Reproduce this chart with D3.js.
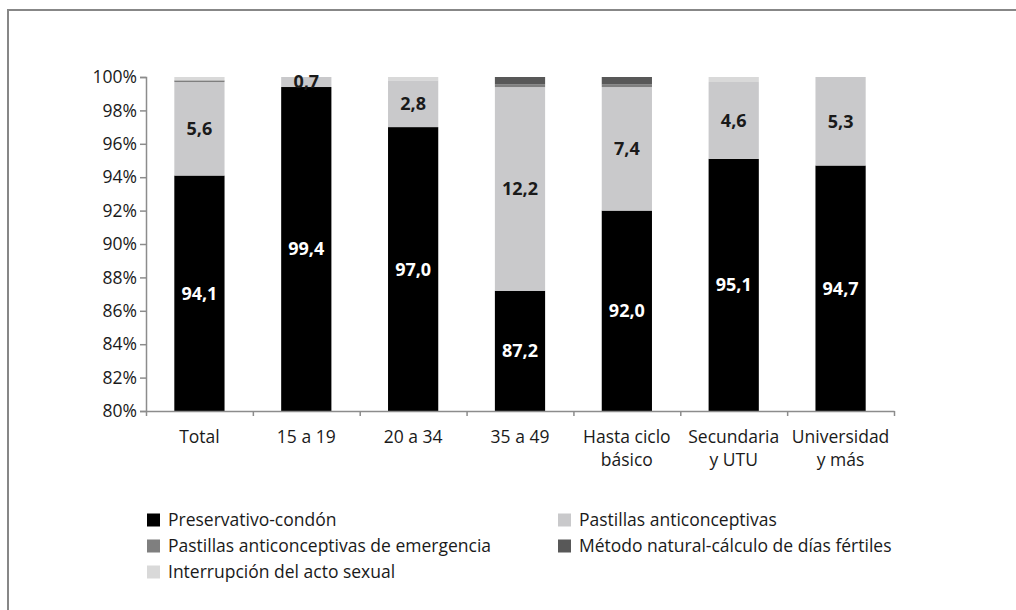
<!DOCTYPE html>
<html>
<head>
<meta charset="utf-8">
<script src="https://cdn.jsdelivr.net/npm/d3@7"></script>
<style>
  body { margin: 0; background: #fff; }
  svg text { font-family: "Open Sans", "Noto Sans", sans-serif; }
</style>
</head>
<body>
<svg id="canvas"></svg>
<script>
let categories = [['Total'], ['15 a 19'], ['20 a 34'], ['35 a 49'], ['Hasta ciclo', 'básico'], ['Secundaria', 'y UTU'], ['Universidad', 'y más']]
let seriesNames = ['Preservativo-condón', 'Pastillas anticonceptivas', 'Pastillas anticonceptivas de emergencia', 'Método natural-cálculo de días fértiles', 'Interrupción del acto sexual']
let seriesColors = ['#000000', '#c9c9cb', '#7f7f7f', '#585858', '#d9d9d9']

let condon       = [94.1, 99.4, 97.0, 87.2, 92.0, 95.1, 94.7]
let pastillas    = [5.6, 0.7, 2.8, 12.2, 7.4, 4.6, 5.3]
let emergencia   = [0.1, 0, 0, 0.15, 0.15, 0, 0]
let natural      = [0, 0, 0, 0.45, 0.45, 0, 0]
let interrupcion = [0.2, 0, 0.2, 0, 0, 0.3, 0]

let yTicks = [80, 82, 84, 86, 88, 90, 92, 94, 96, 98, 100]

let width = 1016
let height = 610
let fontSize = 17.5

let canvas = d3.select('#canvas')
canvas.attr('width', width)
      .attr('height', height)

// outer frame
canvas.append('rect')
      .attr('x', 8).attr('y', 10)
      .attr('width', width).attr('height', height)
      .attr('fill', 'none')
      .attr('stroke', '#878787')
      .attr('stroke-width', 2)

let series = [condon, pastillas, emergencia, natural, interrupcion]
let rows = categories.map((c, i) => {
    let row = { key: i }
    series.forEach((s, j) => { row['s' + j] = s[i] })
    return row
})
let stacked = d3.stack().keys(series.map((s, j) => 's' + j))(rows)

let xScale = d3.scaleBand()
               .domain(d3.range(categories.length))
               .range([146, 894])
               .paddingInner(0.53)
               .paddingOuter(0.265)

let yScale = d3.scaleLinear()
               .domain([80, 100])
               .range([411, 77])

canvas.append('clipPath').attr('id', 'plot')
      .append('rect').attr('x', 146).attr('y', 77).attr('width', 748).attr('height', 334)

let layers = canvas.append('g').attr('clip-path', 'url(#plot)')
                   .selectAll('g')
                   .data(stacked)
                   .enter()
                   .append('g')
                   .attr('fill', (d, j) => seriesColors[j])

layers.selectAll('rect')
      .data(d => d)
      .enter()
      .append('rect')
      .attr('x', (d, i) => xScale(i))
      .attr('width', xScale.bandwidth())
      .attr('y', d => yScale(Math.min(d[1], 100)))
      .attr('height', d => Math.max(0, yScale(d[0]) - yScale(Math.min(d[1], 100))))

// value labels for the two main series
let fmt = v => d3.format('.1f')(v).replace('.', ',')
stacked.slice(0, 2).forEach((layer, j) => {
    canvas.append('g')
          .selectAll('text')
          .data(layer)
          .enter()
          .append('text')
          .attr('x', (d, i) => xScale(i) + xScale.bandwidth() / 2)
          .attr('y', d => (yScale(Math.max(d[0], 80)) + yScale(Math.min(d[1], 100))) / 2)
          .attr('dy', '0.36em')
          .attr('text-anchor', 'middle')
          .attr('font-size', 18)
          .attr('font-weight', 'bold')
          .attr('fill', j === 0 ? '#ffffff' : '#1a1a1a')
          .text((d, i) => fmt(series[j][i]))
})

// axes
let yAxis = d3.axisLeft(yScale)
              .tickValues(yTicks)
              .tickFormat(d => d + '%')
              .tickSize(6)
              .tickPadding(3)

let yG = canvas.append('g')
               .attr('transform', 'translate(146,0)')
               .call(yAxis)

let xEdge = d3.scaleLinear().domain([0, categories.length]).range([146, 894])
let xAxis = d3.axisBottom(xEdge)
              .tickValues(d3.range(categories.length + 1))
              .tickFormat('')
              .tickSize(5)
              .tickSizeOuter(0)

let xG = canvas.append('g')
               .attr('transform', 'translate(0,411)')
               .call(xAxis)

;[yG, xG].forEach(g => {
    g.selectAll('path, line').attr('stroke', '#8c8c8c').attr('stroke-width', 1.5)
})
yG.selectAll('text').attr('font-size', fontSize).attr('fill', '#1a1a1a')

let catLabels = canvas.append('g')
                      .selectAll('text')
                      .data(categories)
                      .enter()
                      .append('text')
                      .attr('x', (d, i) => xScale(i) + xScale.bandwidth() / 2)
                      .attr('y', 443)
                      .attr('text-anchor', 'middle')
                      .attr('font-size', fontSize)
                      .attr('fill', '#1a1a1a')

catLabels.selectAll('tspan')
         .data(d => d)
         .enter()
         .append('tspan')
         .attr('x', function () { return d3.select(this.parentNode).attr('x') })
         .attr('dy', (d, k) => k === 0 ? 0 : 23)
         .text(d => d)

// legend
let legendPos = [[147, 520], [558, 520], [147, 546], [558, 546], [147, 572]]
let legend = canvas.append('g')
                   .selectAll('g')
                   .data(seriesNames)
                   .enter()
                   .append('g')
                   .attr('transform', (d, i) => 'translate(' + legendPos[i][0] + ',' + legendPos[i][1] + ')')

legend.append('rect')
      .attr('x', 0).attr('y', -6.5)
      .attr('width', 13).attr('height', 13)
      .attr('fill', (d, i) => seriesColors[i])

legend.append('text')
      .attr('x', 21)
      .attr('dy', '0.35em')
      .attr('font-size', fontSize)
      .attr('fill', '#1a1a1a')
      .text(d => d)
</script>
</body>
</html>
